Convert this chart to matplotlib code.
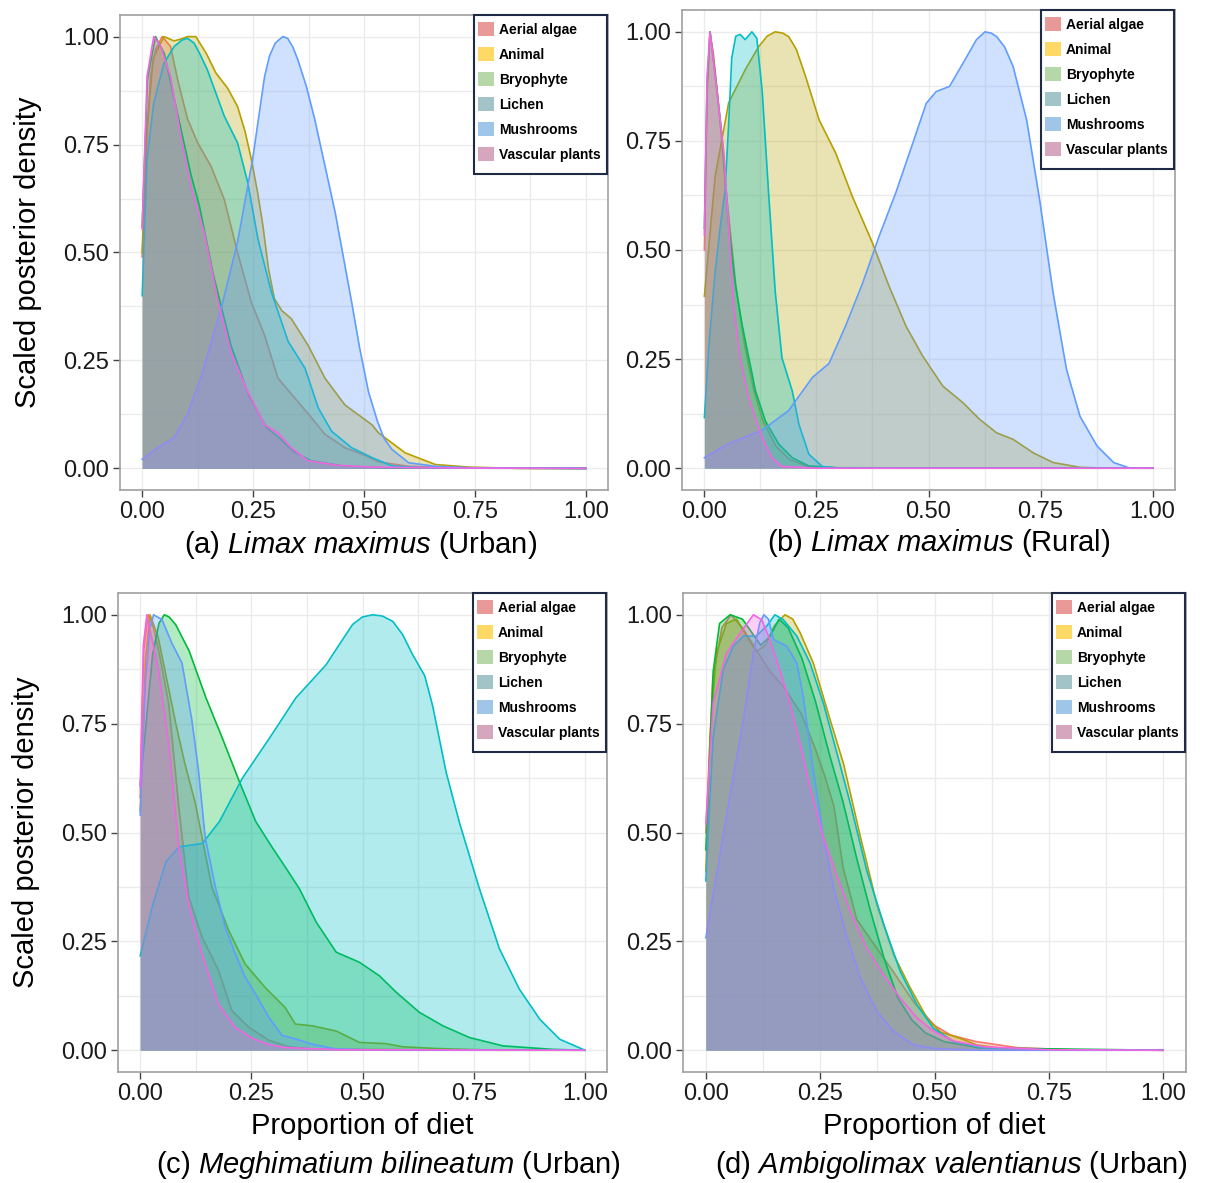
import matplotlib.pyplot as plt
from matplotlib.patches import Patch, Rectangle

plt.rcParams['font.family'] = ['Liberation Sans', 'DejaVu Sans']
plt.rcParams['mathtext.fontset'] = 'custom'
plt.rcParams['mathtext.rm'] = 'Liberation Sans'
plt.rcParams['mathtext.it'] = 'Liberation Sans:italic'

# diet sources (legend order = drawing order)
sources = ['Aerial algae', 'Animal', 'Bryophyte', 'Lichen', 'Mushrooms', 'Vascular plants']
line_colors = ['#F8766D', '#B79F00', '#00BA38', '#00BFC4', '#619CFF', '#F564E3']
legend_colors = ['#EA9999', '#FFD966', '#B6D7A8', '#A2C4C9', '#9FC5E8', '#D5A6BD']

tick_vals = [0, 0.25, 0.5, 0.75, 1.0]
tick_labels = ['0.00', '0.25', '0.50', '0.75', '1.00']

# (a) Limax maximus, urban  -- (proportion, scaled density)
a_algae = [(0, 0.49), (0.01, 0.75), (0.019, 0.91), (0.03, 0.97), (0.045, 1.0), (0.064, 0.977),
           (0.08, 0.9), (0.102, 0.81), (0.125, 0.754), (0.155, 0.70), (0.185, 0.623), (0.215, 0.50),
           (0.246, 0.385), (0.276, 0.308), (0.306, 0.209), (0.344, 0.163), (0.382, 0.117),
           (0.412, 0.079), (0.457, 0.048), (0.503, 0.03), (0.533, 0.015), (0.6, 0.005), (0.7, 0.001), (1.0, 0)]
a_animal = [(0, 0.50), (0.01, 0.78), (0.025, 0.95), (0.049, 1.0), (0.072, 0.99), (0.09, 0.995),
            (0.102, 1.0), (0.121, 1.0), (0.145, 0.96), (0.166, 0.916), (0.193, 0.88), (0.215, 0.838),
            (0.232, 0.78), (0.246, 0.716), (0.26, 0.64), (0.272, 0.563), (0.285, 0.46), (0.298, 0.393),
            (0.315, 0.365), (0.336, 0.347), (0.374, 0.285), (0.412, 0.209), (0.457, 0.147),
            (0.518, 0.101), (0.533, 0.082), (0.593, 0.036), (0.661, 0.009), (0.737, 0.003), (0.85, 0), (1.0, 0)]
a_bryo = [(0, 0.56), (0.012, 0.9), (0.03, 1.0), (0.05, 0.96), (0.08, 0.82), (0.11, 0.68), (0.129, 0.608),
          (0.16, 0.45), (0.2, 0.285), (0.24, 0.17), (0.28, 0.095), (0.31, 0.07), (0.34, 0.04),
          (0.38, 0.018), (0.45, 0.006), (0.55, 0.001), (1.0, 0)]
a_lichen = [(0, 0.40), (0.011, 0.716), (0.026, 0.846), (0.049, 0.938), (0.072, 0.977), (0.09, 0.992),
            (0.102, 0.996), (0.117, 0.985), (0.13, 0.96), (0.147, 0.923), (0.185, 0.816), (0.215, 0.754),
            (0.238, 0.662), (0.261, 0.531), (0.291, 0.409), (0.329, 0.294), (0.367, 0.232), (0.397, 0.14),
            (0.427, 0.086), (0.472, 0.048), (0.518, 0.025), (0.563, 0.006), (0.62, 0.002), (1.0, 0)]
a_mush = [(0, 0.021), (0.034, 0.048), (0.072, 0.071), (0.102, 0.125), (0.132, 0.209), (0.155, 0.29),
          (0.178, 0.37), (0.215, 0.524), (0.249, 0.716), (0.265, 0.83), (0.276, 0.908), (0.287, 0.955),
          (0.3, 0.985), (0.317, 1.0), (0.328, 0.996), (0.34, 0.975), (0.351, 0.946), (0.37, 0.885),
          (0.389, 0.808), (0.41, 0.71), (0.435, 0.593), (0.472, 0.386), (0.49, 0.28), (0.51, 0.178),
          (0.53, 0.11), (0.545, 0.07), (0.563, 0.044), (0.601, 0.013), (0.66, 0.005), (0.75, 0.001), (1.0, 0)]
a_vasc = [(0, 0.554), (0.011, 0.908), (0.026, 1.0), (0.041, 0.98), (0.064, 0.908), (0.087, 0.77),
          (0.11, 0.654), (0.14, 0.546), (0.17, 0.393), (0.2, 0.27), (0.238, 0.178), (0.276, 0.101),
          (0.306, 0.082), (0.336, 0.048), (0.374, 0.018), (0.442, 0.007), (0.518, 0.003), (0.7, 0.001), (1.0, 0)]

# (b) Limax maximus, rural
b_algae = [(0, 0.50), (0.006, 0.85), (0.012, 1.0), (0.02, 0.95), (0.03, 0.85), (0.05, 0.62), (0.07, 0.42),
           (0.09, 0.28), (0.11, 0.18), (0.13, 0.11), (0.16, 0.05), (0.19, 0.02), (0.23, 0.004), (0.3, 0), (1.0, 0)]
b_animal = [(0, 0.394), (0.024, 0.669), (0.054, 0.837), (0.091, 0.913), (0.121, 0.966), (0.14, 0.99),
            (0.158, 1.0), (0.175, 0.997), (0.188, 0.989), (0.205, 0.96), (0.226, 0.897), (0.256, 0.798),
            (0.293, 0.722), (0.33, 0.623), (0.375, 0.516), (0.412, 0.417), (0.45, 0.325), (0.487, 0.257),
            (0.532, 0.188), (0.577, 0.15), (0.614, 0.112), (0.652, 0.081), (0.689, 0.066), (0.734, 0.035),
            (0.778, 0.013), (0.838, 0.002), (0.9, 0), (1.0, 0)]
b_bryo = [(0, 0.55), (0.006, 0.88), (0.0127, 1.0), (0.024, 0.902), (0.039, 0.764), (0.054, 0.558),
          (0.069, 0.421), (0.084, 0.329), (0.099, 0.253), (0.114, 0.177), (0.136, 0.108), (0.166, 0.055),
          (0.196, 0.024), (0.233, 0.005), (0.3, 0.001), (1.0, 0)]
b_lichen = [(0, 0.116), (0.01, 0.28), (0.024, 0.45), (0.035, 0.55), (0.046, 0.635), (0.054, 0.787),
            (0.061, 0.94), (0.07, 0.99), (0.08, 0.994), (0.091, 0.982), (0.106, 1.0), (0.117, 0.985),
            (0.129, 0.863), (0.143, 0.634), (0.158, 0.405), (0.173, 0.253), (0.196, 0.177), (0.211, 0.1),
            (0.233, 0.032), (0.263, 0.004), (0.3, 0), (1.0, 0)]
b_mush = [(0, 0.024), (0.054, 0.056), (0.129, 0.087), (0.188, 0.132), (0.241, 0.208), (0.278, 0.24),
          (0.315, 0.326), (0.353, 0.424), (0.39, 0.532), (0.427, 0.631), (0.465, 0.745), (0.495, 0.836),
          (0.517, 0.863), (0.547, 0.875), (0.577, 0.928), (0.607, 0.982), (0.626, 1.0), (0.64, 0.997),
          (0.652, 0.989), (0.67, 0.965), (0.689, 0.92), (0.719, 0.798), (0.749, 0.608), (0.778, 0.402),
          (0.808, 0.226), (0.838, 0.119), (0.876, 0.051), (0.913, 0.013), (0.95, 0), (1.0, 0)]
b_vasc = [(0, 0.535), (0.006, 0.9), (0.0127, 1.0), (0.028, 0.863), (0.043, 0.726), (0.054, 0.558),
          (0.066, 0.368), (0.08, 0.253), (0.099, 0.162), (0.121, 0.094), (0.136, 0.055), (0.151, 0.024),
          (0.173, 0.004), (0.25, 0), (1.0, 0)]

# (c) Meghimatium bilineatum, urban
c_algae = [(0, 0.58), (0.008, 0.92), (0.018, 1.0), (0.03, 0.97), (0.045, 0.9), (0.064, 0.797), (0.086, 0.567),
           (0.109, 0.353), (0.139, 0.26), (0.176, 0.184), (0.206, 0.091), (0.244, 0.053), (0.289, 0.023),
           (0.334, 0.008), (0.4, 0.002), (1.0, 0)]
c_animal = [(0, 0.55), (0.012, 0.9), (0.022, 1.0), (0.04, 0.95), (0.06, 0.85), (0.08, 0.75), (0.1, 0.66),
            (0.124, 0.567), (0.161, 0.375), (0.199, 0.275), (0.236, 0.198), (0.281, 0.144), (0.326, 0.098),
            (0.349, 0.06), (0.387, 0.056), (0.441, 0.044), (0.493, 0.018), (0.553, 0.015), (0.59, 0.008),
            (0.665, 0.004), (0.8, 0), (1.0, 0)]
c_bryo = [(0, 0.609), (0.028, 0.909), (0.042, 0.98), (0.054, 1.0), (0.065, 0.995), (0.08, 0.977),
          (0.11, 0.917), (0.148, 0.809), (0.185, 0.716), (0.223, 0.617), (0.26, 0.525), (0.298, 0.464),
          (0.328, 0.418), (0.358, 0.371), (0.396, 0.294), (0.441, 0.225), (0.493, 0.202), (0.538, 0.171),
          (0.576, 0.133), (0.628, 0.087), (0.681, 0.056), (0.741, 0.029), (0.816, 0.01), (0.928, 0.002), (1.0, 0)]
c_lichen = [(0, 0.217), (0.028, 0.333), (0.058, 0.433), (0.088, 0.467), (0.14, 0.475), (0.178, 0.525),
            (0.23, 0.625), (0.291, 0.717), (0.35, 0.809), (0.418, 0.885), (0.45, 0.935), (0.478, 0.978),
            (0.5, 0.995), (0.523, 1.0), (0.545, 0.997), (0.568, 0.985), (0.59, 0.955), (0.613, 0.908),
            (0.64, 0.86), (0.658, 0.79), (0.688, 0.639), (0.718, 0.523), (0.763, 0.371), (0.808, 0.233),
            (0.853, 0.14), (0.899, 0.071), (0.944, 0.025), (0.996, 0.002), (1.0, 0)]
c_mush = [(0, 0.54), (0.012, 0.85), (0.022, 0.97), (0.03, 1.0), (0.049, 0.989), (0.071, 0.935),
          (0.094, 0.889), (0.116, 0.759), (0.131, 0.643), (0.146, 0.49), (0.169, 0.375), (0.191, 0.283),
          (0.214, 0.221), (0.236, 0.168), (0.259, 0.13), (0.289, 0.076), (0.319, 0.034), (0.349, 0.026),
          (0.387, 0.014), (0.439, 0.003), (0.55, 0), (1.0, 0)]
c_vasc = [(0, 0.605), (0.007, 0.93), (0.015, 1.0), (0.041, 0.874), (0.064, 0.705), (0.086, 0.475),
          (0.109, 0.336), (0.139, 0.221), (0.176, 0.106), (0.214, 0.052), (0.251, 0.028), (0.289, 0.013),
          (0.326, 0.006), (0.45, 0.001), (1.0, 0)]

# (d) Ambigolimax valentianus, urban
d_algae = [(0, 0.5), (0.015, 0.85), (0.035, 0.97), (0.055, 1.0), (0.08, 0.97), (0.11, 0.92), (0.14, 0.87),
           (0.17, 0.835), (0.21, 0.77), (0.24, 0.69), (0.26, 0.63), (0.28, 0.56), (0.3, 0.42), (0.33, 0.3),
           (0.37, 0.24), (0.41, 0.18), (0.455, 0.11), (0.5, 0.057), (0.535, 0.035), (0.59, 0.02),
           (0.68, 0.006), (0.8, 0.001), (1.0, 0)]
d_animal = [(0, 0.41), (0.009, 0.72), (0.023, 0.912), (0.045, 0.98), (0.067, 0.99), (0.09, 0.95),
            (0.11, 0.915), (0.13, 0.93), (0.15, 0.975), (0.173, 1.0), (0.19, 0.99), (0.206, 0.959),
            (0.235, 0.889), (0.272, 0.758), (0.301, 0.658), (0.338, 0.49), (0.374, 0.335), (0.411, 0.219),
            (0.447, 0.143), (0.484, 0.073), (0.513, 0.042), (0.557, 0.027), (0.593, 0.012), (0.65, 0.004),
            (0.75, 0.001), (1.0, 0)]
d_bryo = [(0, 0.46), (0.016, 0.87), (0.03, 0.98), (0.053, 1.0), (0.08, 0.99), (0.1, 0.96), (0.12, 0.93),
          (0.14, 0.95), (0.16, 0.99), (0.18, 0.97), (0.21, 0.9), (0.24, 0.8), (0.27, 0.68), (0.3, 0.57),
          (0.33, 0.44), (0.36, 0.32), (0.39, 0.21), (0.42, 0.12), (0.45, 0.07), (0.48, 0.04), (0.52, 0.02),
          (0.6, 0.005), (1.0, 0)]
d_lichen = [(0, 0.389), (0.016, 0.72), (0.038, 0.874), (0.06, 0.928), (0.082, 0.951), (0.11, 0.951),
            (0.133, 0.974), (0.151, 1.0), (0.169, 0.989), (0.199, 0.951), (0.228, 0.889), (0.257, 0.797),
            (0.287, 0.681), (0.316, 0.566), (0.352, 0.412), (0.389, 0.289), (0.425, 0.181), (0.462, 0.104),
            (0.498, 0.05), (0.542, 0.02), (0.608, 0.005), (0.75, 0.001), (1.0, 0)]
d_mush = [(0, 0.258), (0.031, 0.45), (0.06, 0.628), (0.082, 0.758), (0.104, 0.912), (0.118, 0.982),
          (0.127, 1.0), (0.137, 0.99), (0.148, 0.943), (0.177, 0.928), (0.199, 0.889), (0.213, 0.812),
          (0.235, 0.643), (0.257, 0.49), (0.279, 0.374), (0.309, 0.258), (0.338, 0.166), (0.374, 0.089),
          (0.411, 0.043), (0.455, 0.012), (0.498, 0.004), (0.6, 0), (1.0, 0)]
d_vasc = [(0, 0.52), (0.016, 0.797), (0.045, 0.912), (0.075, 0.958), (0.104, 1.0), (0.122, 0.989),
          (0.14, 0.943), (0.162, 0.874), (0.184, 0.797), (0.206, 0.705), (0.228, 0.605), (0.257, 0.49),
          (0.287, 0.4), (0.316, 0.32), (0.352, 0.235), (0.389, 0.173), (0.425, 0.12), (0.462, 0.074),
          (0.498, 0.044), (0.542, 0.021), (0.608, 0.008), (0.75, 0.001), (1.0, 0)]

W, H = 1218, 1183
fig = plt.figure(figsize=(W / 100, H / 100), dpi=100)


def make_axes(left, right, top, bottom):
    ax = fig.add_axes([left / W, 1 - bottom / H, (right - left) / W, (bottom - top) / H])
    ax.px_size = (right - left, bottom - top)
    return ax


def draw_panel(ax, curves):
    # each group: its fill, then its outline, stacked in order
    for i, (pts, col) in enumerate(zip(curves, line_colors)):
        xs = [p[0] for p in pts]
        ys = [p[1] for p in pts]
        ax.fill_between(xs, ys, 0, color=col, alpha=0.3, lw=0, zorder=2 + 2 * i)
        ax.plot(xs, ys, color=col, lw=1.2, zorder=3 + 2 * i)
    ax.set_xlim(-0.05, 1.05)
    ax.set_ylim(-0.05, 1.05)
    ax.set_xticks(tick_vals, tick_labels)
    ax.set_yticks(tick_vals, tick_labels)
    ax.set_xticks([0.125, 0.375, 0.625, 0.875], minor=True)
    ax.set_yticks([0.125, 0.375, 0.625, 0.875], minor=True)
    ax.grid(which='both', color='#ebebeb', lw=1.0)
    ax.set_axisbelow(True)
    ax.tick_params(which='major', length=5, width=1, color='#444444', labelsize=17,
                   labelcolor='#1a1a1a', pad=3)
    ax.tick_params(which='minor', length=0)
    for s in ax.spines.values():
        s.set_color('#a0a0a0')
        s.set_linewidth(1.2)
        s.set_zorder(30)

    # boxed legend in the top-right corner (frame drawn by hand)
    pw, ph = ax.px_size
    box_w, box_h = 133 / pw, 159 / ph
    x0, y0 = 1 - 1.5 / pw - box_w, 1 - box_h
    ax.add_patch(Rectangle((x0, y0), box_w, box_h, transform=ax.transAxes, facecolor='white',
                           edgecolor='#1f2a44', lw=1.5, zorder=40, clip_on=False))
    handles = [Patch(facecolor=c, edgecolor='none') for c in legend_colors]
    leg = ax.legend(handles, sources, loc='upper left',
                    bbox_to_anchor=(x0 + 4 / pw, 1 - 7 / ph), borderaxespad=0,
                    frameon=False, prop={'family': 'Liberation Sans', 'weight': 'bold', 'size': 10},
                    handlelength=1.2, handleheight=1.2, labelspacing=0.73,
                    handletextpad=0.35, borderpad=0)
    leg.set_zorder(50)


ax_a = make_axes(120, 608, 15, 490)
ax_b = make_axes(682, 1175, 10, 490)
ax_c = make_axes(118, 607, 593, 1072)
ax_d = make_axes(683, 1186, 593, 1072)

draw_panel(ax_a, [a_algae, a_animal, a_bryo, a_lichen, a_mush, a_vasc])
draw_panel(ax_b, [b_algae, b_animal, b_bryo, b_lichen, b_mush, b_vasc])
draw_panel(ax_c, [c_algae, c_animal, c_bryo, c_lichen, c_mush, c_vasc])
draw_panel(ax_d, [d_algae, d_animal, d_bryo, d_lichen, d_mush, d_vasc])

for ax in (ax_a, ax_c):
    ax.set_ylabel('Scaled posterior density', fontsize=21, labelpad=15)
for ax in (ax_c, ax_d):
    ax.set_xlabel('Proportion of diet', fontsize=21, labelpad=5)

captions = [(361, 545, r'(a) $\mathit{Limax\ maximus}$ (Urban)'),
            (939, 543, r'(b) $\mathit{Limax\ maximus}$ (Rural)'),
            (388, 1165, r'(c) $\mathit{Meghimatium\ bilineatum}$ (Urban)'),
            (951, 1165, r'(d) $\mathit{Ambigolimax\ valentianus}$ (Urban)')]
for px, py, txt in captions:
    fig.text(px / W, 1 - py / H, txt, ha='center', va='center', fontsize=21)

fig.savefig('out.png', dpi=100)
